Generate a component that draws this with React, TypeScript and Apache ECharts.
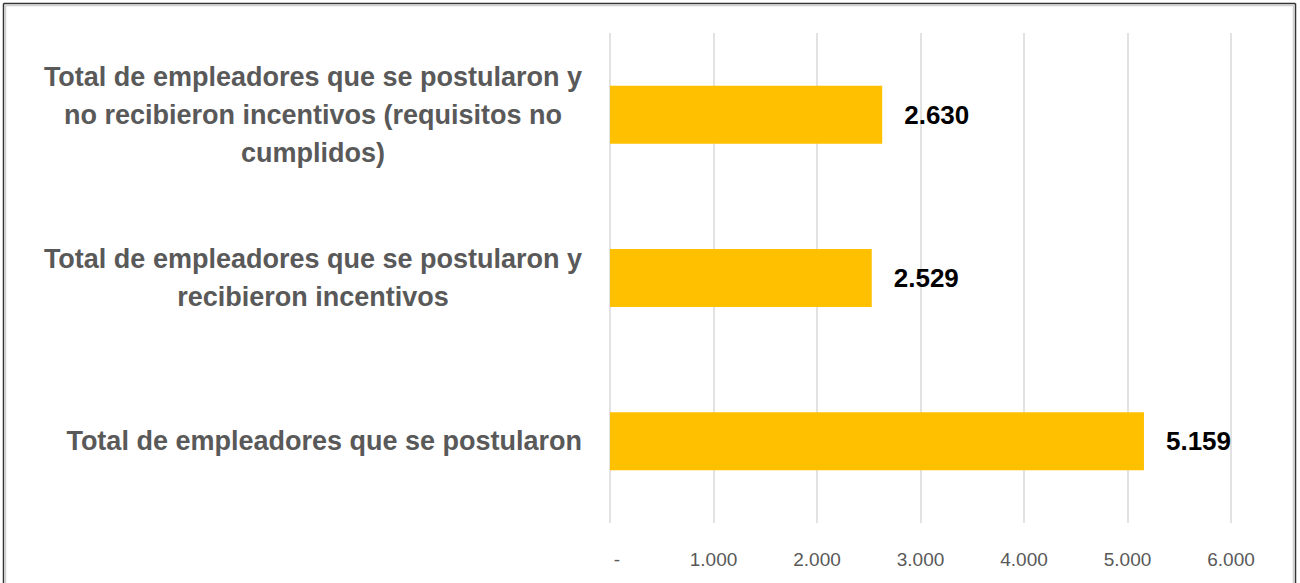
import React, { useEffect, useRef } from "react";
import * as echarts from "echarts";

const categories = [
  "Total de empleadores que se postularon",
  "Total de empleadores que se postularon y\nrecibieron incentivos",
  "Total de empleadores que se postularon y\nno recibieron incentivos (requisitos no\ncumplidos)",
];
const values = [5159, 2529, 2630];
const xTicksMax = 6000;
const xTickStep = 1000;

const fmt = (v: number) =>
  String(Math.round(v)).replace(/\B(?=(\d{3})+(?!\d))/g, ".");

export default function App() {
  const ref = useRef<HTMLDivElement>(null);
  useEffect(() => {
    if (!ref.current) return;
    const chart = echarts.init(ref.current, null, { renderer: "svg" });
    chart.setOption({
      animation: false,
      backgroundColor: "#ffffff",
      grid: { left: 610, right: 69, top: 33, bottom: 60 },
      xAxis: {
        type: "value",
        min: 0,
        max: xTicksMax,
        interval: xTickStep,
        axisLine: { show: false },
        axisTick: { show: false },
        splitLine: { show: true, lineStyle: { color: "#d9d9d9", width: 1.5 } },
        axisLabel: {
          margin: 27,
          color: "#595959",
          fontSize: 19,
          fontFamily: "Liberation Sans",
          formatter: (v: number) => (v === 0 ? "{z|-}" : fmt(v)),
          rich: { z: { padding: [0, 0, 0, 14], fontSize: 19, color: "#595959", fontFamily: "Liberation Sans" } },
        },
      },
      yAxis: {
        type: "category",
        data: categories,
        axisLine: { show: false },
        axisTick: { show: false },
        splitLine: { show: false },
        axisLabel: {
          margin: 28,
          align: "right",
          formatter: (v: string) =>
            v
              .split("\n")
              .map((l) => `{c|${l}}`)
              .join("\n"),
          rich: {
            c: {
              align: "center",
              fontSize: 27,
              fontWeight: "bold",
              color: "#595959",
              fontFamily: "Liberation Sans",
              lineHeight: 38,
            },
          },
        },
      },
      series: [
        {
          type: "bar",
          data: values,
          barWidth: 58,
          itemStyle: { color: "#FFC000" },
          label: {
            show: true,
            position: "right",
            distance: 22,
            color: "#000000",
            fontSize: 26,
            fontWeight: "bold",
            fontFamily: "Liberation Sans",
            formatter: (p: any) => fmt(p.value),
          },
        },
      ],
      graphic: [
        { type: "line", shape: { x1: 3.5, y1: 3.5, x2: 1295.5, y2: 3.5 }, style: { stroke: "#333", lineWidth: 1.5 } },
        { type: "line", shape: { x1: 3.5, y1: 3.5, x2: 3.5, y2: 583 }, style: { stroke: "#333", lineWidth: 1.5 } },
        { type: "line", shape: { x1: 1295.5, y1: 3.5, x2: 1295.5, y2: 583 }, style: { stroke: "#333", lineWidth: 1.5 } },
        { type: "line", shape: { x1: 5.5, y1: 5.5, x2: 1293.5, y2: 5.5 }, style: { stroke: "#d0d0d0", lineWidth: 1.5 } },
        { type: "line", shape: { x1: 5.5, y1: 5.5, x2: 5.5, y2: 583 }, style: { stroke: "#d0d0d0", lineWidth: 1.5 } },
        { type: "line", shape: { x1: 1293.5, y1: 5.5, x2: 1293.5, y2: 583 }, style: { stroke: "#d0d0d0", lineWidth: 1.5 } },
      ],
    });
    return () => chart.dispose();
  }, []);
  return (
    <div
      ref={ref}
      style={{ position: "fixed", left: 0, top: 0, width: 1300, height: 583 }}
    />
  );
}
